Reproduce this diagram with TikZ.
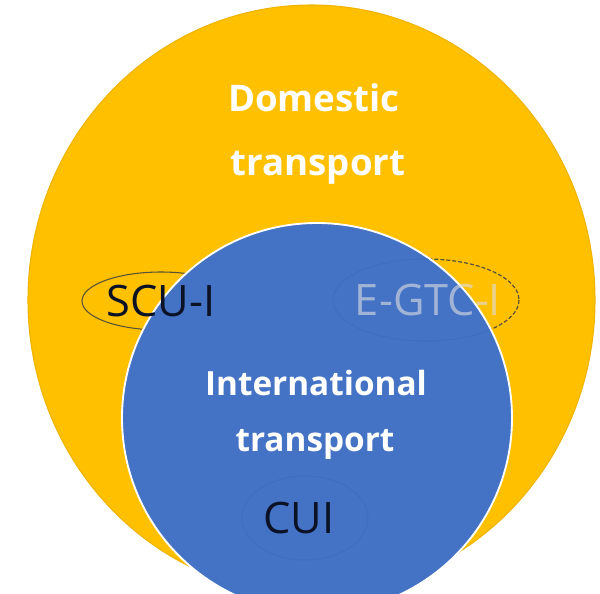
\documentclass[tikz,border=0pt]{standalone}
\usepackage{fontspec}
\setmainfont{Open Sans}
\usetikzlibrary{shapes.geometric}
\definecolor{domyellow}{HTML}{FFC000}
\definecolor{domedge}{HTML}{F0B400}
\definecolor{intblue}{HTML}{4472C4}
\definecolor{ovalline}{HTML}{5A5236}
\definecolor{faintline}{HTML}{416DC0}
\definecolor{darktext}{HTML}{0B1226}
\definecolor{greytext}{HTML}{DCDDE2}
\tikzset{
  bigtitle/.style={text=white, font=\bfseries\fontsize{27.5}{33}\selectfont, align=center, inner sep=0pt},
  midtitle/.style={text=white, font=\bfseries\fontsize{25}{31}\selectfont, align=center, inner sep=0pt},
  tag/.style={font=\fontsize{32.5}{38}\selectfont, inner sep=0pt},
}
\begin{document}
\begin{tikzpicture}[x=0.75pt,y=-0.75pt]
\useasboundingbox (0,0) rectangle (600,593);
\fill[white] (0,0) rectangle (600,593);
% outer domestic oval
\path[fill=domyellow, draw=domedge, line width=0.8pt] (311.5,300) ellipse [x radius=283.5, y radius=295];
% SCU-I oval (under the blue circle)
\draw[ovalline, line width=0.8pt] (161,301) ellipse [x radius=79, y radius=29];
% E-GTC-I dashed oval
\draw[ovalline, line width=0.9pt, dash pattern=on 3pt off 1.5pt] (426,300) ellipse [x radius=93, y radius=41];
% international circle
\path[fill=intblue, draw=white, line width=1.4pt] (317,418) circle [radius=195];
% faint ovals on the blue
\begin{scope}
\clip (317,418) circle [radius=194];
\draw[faintline, line width=0.8pt] (426,300) ellipse [x radius=93, y radius=41];
\draw[faintline, line width=0.8pt] (305,518) ellipse [x radius=63, y radius=42];
\end{scope}
% texts
\node[bigtitle] (dom1) at (314,98) {Domestic};
\node[bigtitle] (dom2) at (318,168) {transport};
\node[midtitle] (int1) at (316,383) {International};
\node[midtitle] (int2) at (315,444) {transport};
\node[tag, text=darktext] (scu) at (161,301) {SCU-I};
\node[tag, text=greytext, opacity=0.62] (egtc) at (428,300) {E-GTC-I};
\node[tag, text=darktext] (cui) at (299,518) {CUI};
\end{tikzpicture}
\end{document}
